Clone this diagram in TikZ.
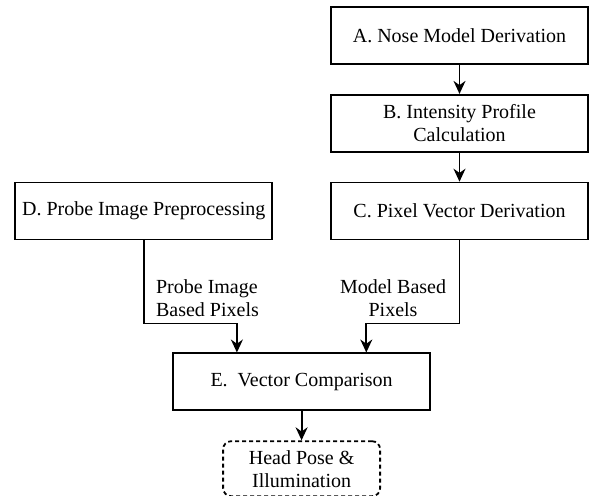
\documentclass[tikz,border=0pt]{standalone}
\usepackage{fontspec}
\setmainfont{Liberation Serif}
\usepackage{tikz}
\usetikzlibrary{shapes,arrows.meta,positioning,fit,calc}

\begin{document}
\begin{tikzpicture}[
    node distance=14.5pt,
    font=\fontsize{10}{11.5}\selectfont,
    stage/.style={rectangle, draw, line width=0.9pt, fill=white, minimum width=128.5pt, minimum height=28.5pt, align=center, inner sep=2pt},
    result/.style={rectangle, draw, dashed, dash pattern=on 2pt off 1.5pt, rounded corners=4pt, line width=0.9pt, minimum width=78.5pt, minimum height=27.5pt, align=center, inner sep=2pt},
    flow/.style={-{Stealth[length=6.5pt,width=6pt]}, line width=0.9pt},
    lbl/.style={inner sep=0pt}
]
\useasboundingbox (0,0) rectangle (294.5pt,-248pt);

\node[stage] (A) at (229.75pt,-17.75pt) {A. Nose Model Derivation};
\node[stage, below=of A] (B) {B. Intensity Profile\\Calculation};
\node[stage, below=of B] (C) {C. Pixel Vector Derivation};
\node[stage, left=28.5pt of C] (D) {D. Probe Image Preprocessing};
\coordinate (mid) at ($(D.south)!0.5!(C.south)$);
\node[stage, below=56pt of mid] (E) {E.\ \ Vector Comparison};
\node[result, below=of E] (out) {Head Pose \&\\Illumination};

% inputs of E
\coordinate (inL) at ($(E.north west)!0.25!(E.north east)$);
\coordinate (inR) at ($(E.north west)!0.75!(E.north east)$);

\draw[flow] (A) -- (B);
\draw[flow] (B) -- (C);
\draw[flow] (D.south) |- ($(inL)+(0,14.5pt)$) -- (inL);
\draw[flow] (C.south) |- ($(inR)+(0,14.5pt)$) -- (inR);
\draw[flow] (E) -- (out);

\node[lbl, anchor=west, align=left] (lp) at ($(D.south)+(6pt,-29pt)$) {Probe Image\\Based Pixels};
\node[lbl, anchor=east, align=center] (lm) at ($(C.south)+(-6.5pt,-29pt)$) {Model Based\\Pixels};

\end{tikzpicture}
\end{document}
